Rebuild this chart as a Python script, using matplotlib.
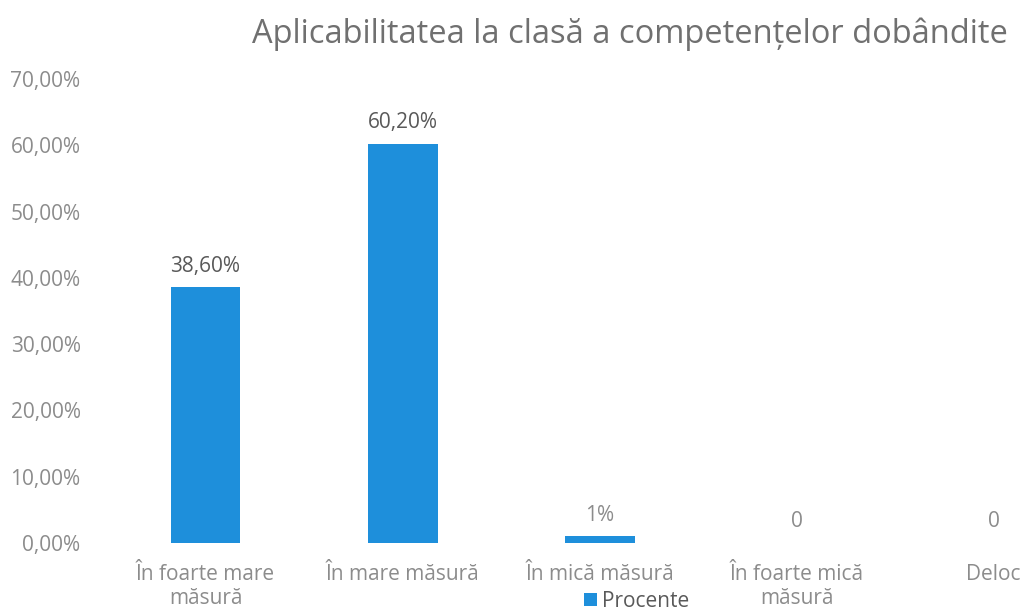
import matplotlib.pyplot as plt

plt.rcParams['font.family'] = ['Open Sans', 'DejaVu Sans']

# date
categorii = ["În foarte mare\nmăsură", "În mare măsură", "În mică măsură",
             "În foarte mică\nmăsură", "Deloc"]
procente = [38.6, 60.2, 1.0, 0.0, 0.0]
etichete = ["38,60%", "60,20%", "1%", "0", "0"]
yticks = [0, 10, 20, 30, 40, 50, 60, 70]
ytick_labels = ["0,00%", "10,00%", "20,00%", "30,00%", "40,00%", "50,00%", "60,00%", "70,00%"]

bar_color = "#1E8FDB"
gri = "#8C8C8C"

fig = plt.figure(figsize=(10.24, 6.14), dpi=100)
# axa depaseste marginea dreapta (graficul e taiat in original)
ax = fig.add_axes([0.1045, 0.1156, 0.962, 0.7557])

x = range(len(categorii))
bars = ax.bar(x, procente, width=0.355, color=bar_color, label="Procente")
for xi, v, t in zip(x, procente, etichete):
    ax.text(xi, v + 1.6, t, ha="center", va="bottom", fontsize=15,
            color="#595959" if v > 5 else gri)

ax.set_ylim(0, 70)
ax.set_xlim(-0.5, 4.5)
ax.set_yticks(yticks)
ax.set_yticklabels(ytick_labels)
ax.set_xticks(list(x))
ax.set_xticklabels(categorii, linespacing=1.2)
ax.tick_params(axis="y", length=0, pad=19, labelsize=15, labelcolor=gri)
ax.tick_params(axis="x", length=0, pad=15, labelsize=15, labelcolor=gri)
for s in ax.spines.values():
    s.set_visible(False)

fig.text(0.615, 0.945, "Aplicabilitatea la clasă a competențelor dobândite",
         ha="center", va="center", fontsize=23.5, color="#707070")

fig.legend(handles=[bars], labels=["Procente"], loc="center",
           bbox_to_anchor=(0.622, 0.02), frameon=False, fontsize=15,
           labelcolor="#595959", handlelength=0.6, handleheight=0.6,
           handletextpad=0.25, borderpad=0.2)

plt.savefig("out.png", dpi=100)
